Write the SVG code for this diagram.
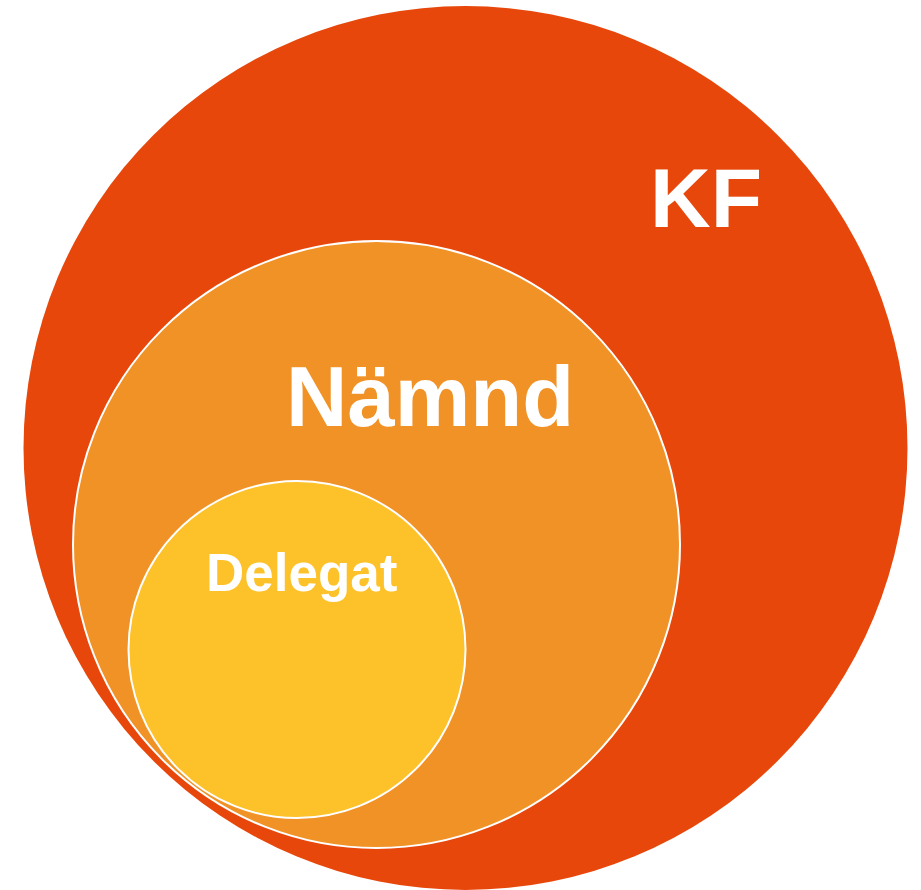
<svg xmlns="http://www.w3.org/2000/svg" width="921" height="890" viewBox="0 0 921 890">
<style>
.lbl{font-family:"Liberation Sans",Arial,sans-serif;font-weight:bold;fill:#ffffff}
.ring{stroke:#ffffff;stroke-width:2}
</style>
<rect width="921" height="890" fill="#ffffff"/>
<g id="kf">
<circle cx="465.5" cy="448" r="442" fill="#E7470B"/>
<text class="lbl" x="650" y="227" font-size="84">KF</text>
</g>
<g id="namnd">
<circle class="ring" cx="376.5" cy="544.5" r="303.5" fill="#F19227"/>
<text class="lbl" x="286" y="426" font-size="85">Nämnd</text>
</g>
<g id="delegat">
<circle class="ring" cx="297" cy="649.5" r="168.5" fill="#FDC22A"/>
<text class="lbl" x="206" y="591" font-size="53">Delegat</text>
</g>
<g id="connectors"></g>
</svg>
